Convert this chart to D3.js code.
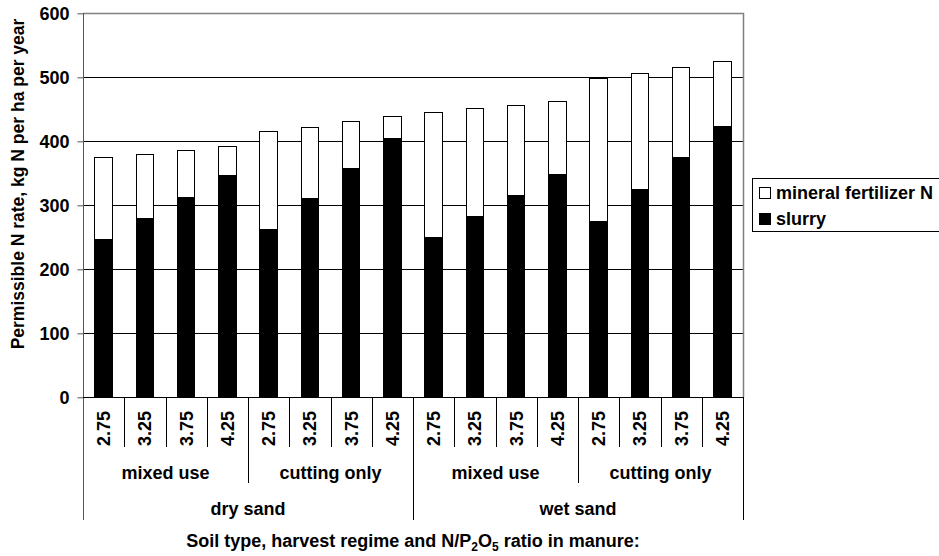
<!DOCTYPE html>
<html lang="en">
<head>
<meta charset="utf-8">
<title>Permissible N rate</title>
<style>
  body { margin: 0; background: #fff; }
  svg { display: block; }
  text { font-family: "Liberation Sans", Arial, Helvetica, sans-serif; font-weight: bold; fill: #000; }
  .grid line { stroke: #000; stroke-width: 1; shape-rendering: crispEdges; }
  .bar { stroke: #000; stroke-width: 1; shape-rendering: crispEdges; }
</style>
</head>
<body>
<div id="chart"></div>
<script src="https://cdn.jsdelivr.net/npm/d3@7"></script>
<script>
// data
var soils = ["dry sand", "wet sand"];
var regimes = ["mixed use", "cutting only"];
var ratios = ["2.75", "3.25", "3.75", "4.25"];
var slurry  = [247, 279, 312, 346, 262, 310, 357, 405, 249, 282, 315, 348, 274, 324, 374, 423];
var mineral = [127, 101,  73,  46, 154, 112,  74,  34, 196, 169, 141, 114, 224, 182, 142, 101];
var yTicks = [0, 100, 200, 300, 400, 500, 600];

(function(){
var width = 939, height = 556,
    pLeft = 83, pRight = 743, pTop = 13.3, pBottom = 397.3;

var cats = [];
soils.forEach(function(s){
  regimes.forEach(function(r){
    ratios.forEach(function(q){ cats.push(s + "|" + r + "|" + q); });
  });
});

var svg = d3.select("#chart").append("svg")
  .attr("width", width).attr("height", height);

var x = d3.scaleBand().domain(cats).range([pLeft, pRight])
  .paddingInner(0.58).paddingOuter(0.29);
var y = d3.scaleLinear().domain([0, 600]).range([pBottom, pTop]);
var step = x.step();

// gridlines
svg.append("g").attr("class", "grid")
  .selectAll("line").data(yTicks.slice(1, -1)).enter().append("line")
  .attr("x1", pLeft).attr("x2", pRight)
  .attr("y1", function(d){ return Math.round(y(d)) + 0.5; })
  .attr("y2", function(d){ return Math.round(y(d)) + 0.5; });

// plot border top / right
svg.append("path")
  .attr("d", "M" + pLeft + "," + (Math.round(y(600)) + 0.5) + "H" + (pRight + 0.5) + "V" + pBottom)
  .attr("fill", "none").attr("stroke", "#808080").attr("stroke-width", 1.5);

// bars
var g = svg.append("g");
g.selectAll("rect.slurry").data(slurry).enter().append("rect")
  .attr("class", "bar slurry")
  .attr("x", function(d, i){ return x(cats[i]); })
  .attr("width", x.bandwidth())
  .attr("y", function(d){ return y(d); })
  .attr("height", function(d){ return y(0) - y(d); })
  .attr("fill", "#000");
g.selectAll("rect.mineral").data(mineral).enter().append("rect")
  .attr("class", "bar mineral")
  .attr("x", function(d, i){ return x(cats[i]); })
  .attr("width", x.bandwidth())
  .attr("y", function(d, i){ return y(slurry[i] + d); })
  .attr("height", function(d, i){ return y(slurry[i]) - y(slurry[i] + d); })
  .attr("fill", "#fff");

// y axis
var yAxis = svg.append("g")
  .attr("transform", "translate(" + (pLeft + 0.5) + ",0)")
  .call(d3.axisLeft(y).tickValues(yTicks).tickSize(6).tickPadding(8));
yAxis.select(".domain").attr("stroke", "#555").attr("d", "M0," + y(600) + "V" + 520);
yAxis.selectAll(".tick line").attr("stroke", "#555");
yAxis.selectAll(".tick text")
  .style("font-size", "18px").style("font-family", "Liberation Sans, Arial, sans-serif")
  .style("font-weight", "bold").attr("fill", "#000");

// zero line
svg.append("line")
  .attr("x1", pLeft).attr("x2", pRight)
  .attr("y1", Math.round(y(0)) + 0.5).attr("y2", Math.round(y(0)) + 0.5)
  .attr("stroke", "#000").attr("shape-rendering", "crispEdges");

// category separators
var sep = svg.append("g").attr("stroke", "#000").attr("shape-rendering", "crispEdges");
for (var i = 1; i <= cats.length; i++) {
  var xx = Math.round(pLeft + i * step) + 0.5;
  var y2 = 447;
  if (i % 4 === 0) y2 = 483;
  if (i % 8 === 0) y2 = 520;
  sep.append("line").attr("x1", xx).attr("x2", xx).attr("y1", pBottom).attr("y2", y2);
}

// ratio labels (rotated)
svg.append("g").selectAll("text").data(cats).enter().append("text")
  .attr("transform", function(d){
    return "translate(" + (x(d) + x.bandwidth() / 2 + 6.5) + ",446) rotate(-90)";
  })
  .attr("text-anchor", "start")
  .style("font-size", "18px")
  .text(function(d){ return d.split("|")[2]; });

// regime labels
var groups = [];
soils.forEach(function(s, si){
  regimes.forEach(function(r, ri){ groups.push({ name: r, idx: si * 2 + ri }); });
});
svg.append("g").selectAll("text").data(groups).enter().append("text")
  .attr("x", function(d){ return pLeft + (d.idx * 4 + 2) * step; })
  .attr("y", 479)
  .attr("text-anchor", "middle")
  .style("font-size", "18px")
  .text(function(d){ return d.name; });

// soil labels
svg.append("g").selectAll("text").data(soils).enter().append("text")
  .attr("x", function(d, i){ return pLeft + (i * 8 + 4) * step; })
  .attr("y", 515)
  .attr("text-anchor", "middle")
  .style("font-size", "18px")
  .text(function(d){ return d; });

// x title
var xt = svg.append("text")
  .attr("x", (pLeft + pRight) / 2).attr("y", 547)
  .attr("text-anchor", "middle")
  .style("font-size", "18px");
xt.append("tspan").text("Soil type, harvest regime and N/P");
xt.append("tspan").attr("dy", 4).style("font-size", "12px").text("2");
xt.append("tspan").attr("dy", -4).text("O");
xt.append("tspan").attr("dy", 4).style("font-size", "12px").text("5");
xt.append("tspan").attr("dy", -4).text(" ratio in manure:");

// y title
svg.append("text")
  .attr("transform", "translate(24,184) rotate(-90)")
  .attr("text-anchor", "middle")
  .style("font-size", "17.5px")
  .text("Permissible N rate, kg N per ha per year");

// legend
var leg = svg.append("g");
leg.append("rect").attr("x", 752.5).attr("y", 178.5).attr("width", 200).attr("height", 53)
  .attr("fill", "#fff").attr("stroke", "#000");
var legItems = [{ name: "mineral fertilizer N", fill: "#fff" }, { name: "slurry", fill: "#000" }];
legItems.forEach(function(d, i){
  leg.append("rect").attr("x", 759.5).attr("y", 187.5 + i * 26).attr("width", 11).attr("height", 11)
    .attr("fill", d.fill).attr("stroke", "#000");
  leg.append("text").attr("x", 776).attr("y", 199 + i * 26)
    .style("font-size", "18px").text(d.name);
});
})();
</script>
</body>
</html>
